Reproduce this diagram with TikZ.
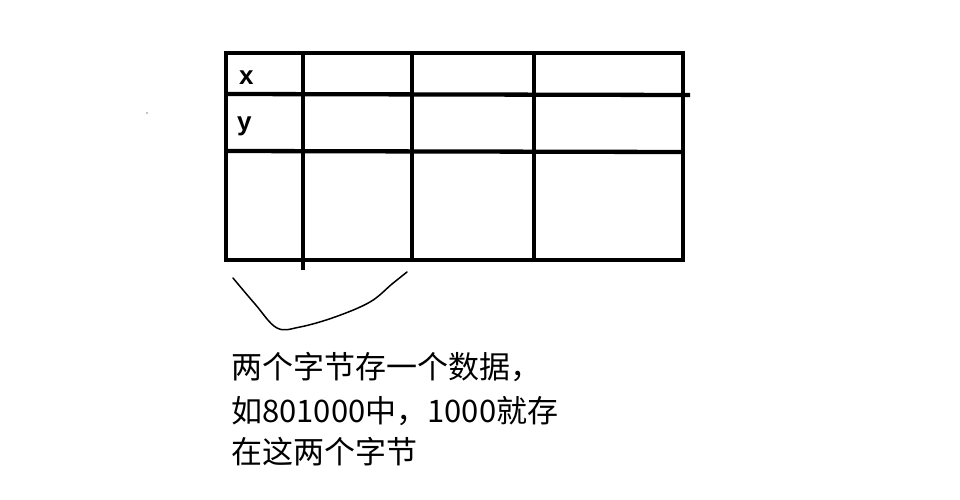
\documentclass[tikz,border=0pt]{standalone}
\usepackage{fontspec}
\setmainfont{Liberation Sans}
\newfontfamily\cjk{Noto Sans CJK SC}
\begin{document}
\begin{tikzpicture}[x=1pt,y=-1pt,
  gridline/.style={line width=4.3pt,line cap=butt},
  rowlabel/.style={anchor=base west,inner sep=0pt,font=\fontsize{26}{30}\selectfont\bfseries},
  note/.style={anchor=west,inner sep=0pt,font=\cjk\fontsize{31}{34}\selectfont},
  brace/.style={line width=1.5pt,line join=round,line cap=round}]
\useasboundingbox[fill=white] (0,0) rectangle (960,500);
% outer frame
\draw[gridline] (226,53) rectangle (683,260);
% horizontal lines
\draw[gridline] (226,94) -- (690,95);
\draw[gridline] (226,151) -- (683,152);
% vertical lines
\draw[gridline] (303,53) -- (303,270);
\draw[gridline] (412,53) -- (412,260);
\draw[gridline] (534,53) -- (534,258);
% labels
\node[rowlabel] (lx) at (239,85) {x};
\node[rowlabel] (ly) at (237,130) {y};
% stray dot
\fill (147,113) circle (0.7);
% hand-drawn curve
\draw[brace] plot[smooth,tension=0.6] coordinates {(233,278) (255,304) (277,328) (300,327) (335,317) (370,302) (392,284) (407,272)};
% note text
\node[note] (t1) at (231,367) {两个字节存一个数据，};
\node[note] (t2) at (231,411) {如801000中，1000就存};
\node[note] (t3) at (231,452) {在这两个字节};
\end{tikzpicture}
\end{document}
